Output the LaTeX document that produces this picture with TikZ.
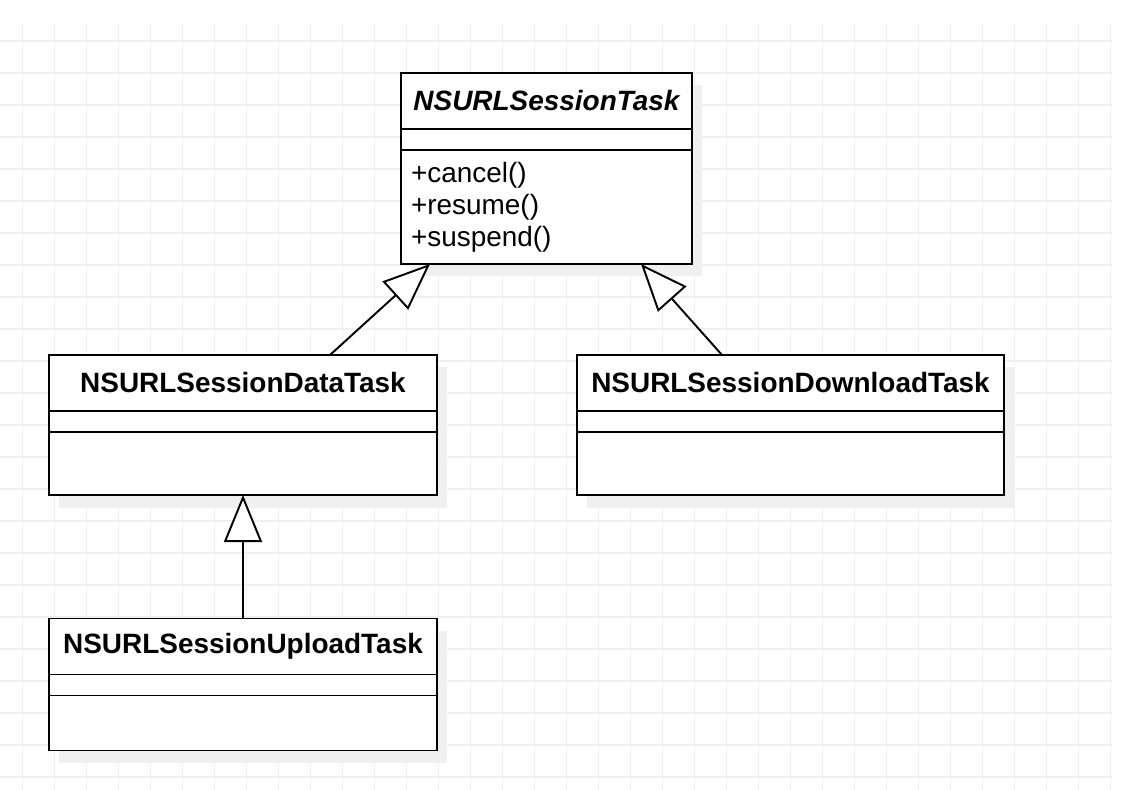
\documentclass[tikz,border=0pt]{standalone}
\usepackage{fontspec}
\setmainfont{Liberation Sans}
\usepackage{tikz}
\usetikzlibrary{shapes,arrows.meta,positioning,calc,shadows}
\newcommand{\umlfont}{\fontsize{15.9}{18.2}\selectfont}

\begin{document}
\begin{tikzpicture}[node distance=1.5cm, auto, >=stealth]
        % Styles
        \tikzstyle{gridline} = [draw=black!6, line width=0.8pt]
        \tikzstyle{part} = [rectangle, draw, line width=1.1pt, fill=white, inner sep=0pt, outer sep=0pt, font=\umlfont, drop shadow={fill=black!6, opacity=1, shadow xshift=0.2cm, shadow yshift=-0.25cm}]
        \tikzstyle{title} = [part, minimum height=1.12cm, font=\umlfont\bfseries]
        \tikzstyle{attrs} = [part, minimum height=0.42cm]
        \tikzstyle{inherit} = [draw, line width=1.1pt, -{Triangle[length=0.94cm, width=0.76cm, fill=white]}]

        % Background
        \useasboundingbox (0,0) rectangle (22.64,-15.8);
        \fill [white] (0,0) rectangle (22.64,-15.8);
        \foreach \i in {0,...,34}
            \path [gridline] ({0.454+0.64*\i},-0.48) -- ({0.454+0.64*\i},-15.8);
        \foreach \j in {1,...,24}
            \path [gridline] (0,{-0.18-0.64*\j}) -- (22.26,{-0.18-0.64*\j});

        % Nodes
        \node [title, minimum width=5.82cm, font=\umlfont\bfseries\itshape] (taskname) at (10.93,-2.02) {NSURLSessionTask};
        \node [attrs, minimum width=5.82cm, node distance=0.77cm, below of=taskname] (taskattrs) {};
        \node [part, minimum width=5.82cm, minimum height=2.28cm, text width=5.42cm, inner xsep=0.2cm, align=left, node distance=1.35cm, below of=taskattrs] (taskops) {+cancel()\\+resume()\\+suspend()};

        \node [title, minimum width=7.76cm] (dataname) at (4.86,-7.66) {NSURLSessionDataTask};
        \node [attrs, minimum width=7.76cm, node distance=0.77cm, below of=dataname] (dataattrs) {};
        \node [part, minimum width=7.76cm, minimum height=1.26cm, node distance=0.84cm, below of=dataattrs] (dataops) {};

        \node [title, minimum width=8.54cm, node distance=10.95cm, right of=dataname] (downname) {NSURLSessionDownloadTask};
        \node [attrs, minimum width=8.54cm, node distance=0.77cm, below of=downname] (downattrs) {};
        \node [part, minimum width=8.54cm, minimum height=1.26cm, node distance=0.84cm, below of=downattrs] (downops) {};

        \node [title, minimum width=7.76cm, node distance=5.27cm, below of=dataname] (uploadname) {NSURLSessionUploadTask};
        \node [attrs, minimum width=7.76cm, node distance=0.77cm, below of=uploadname] (uploadattrs) {};
        \node [part, minimum width=7.76cm, minimum height=1.10cm, node distance=0.76cm, below of=uploadattrs] (uploadops) {};

        % Edges
        \path [inherit] ([xshift=1.74cm]dataname.north) -- ([xshift=-2.33cm]taskops.south);
        \path [inherit] ([xshift=-1.37cm]downname.north) -- ([xshift=1.89cm]taskops.south);
        \path [inherit] (uploadname.north) -- (dataops.south);

    \end{tikzpicture}
\end{document}
